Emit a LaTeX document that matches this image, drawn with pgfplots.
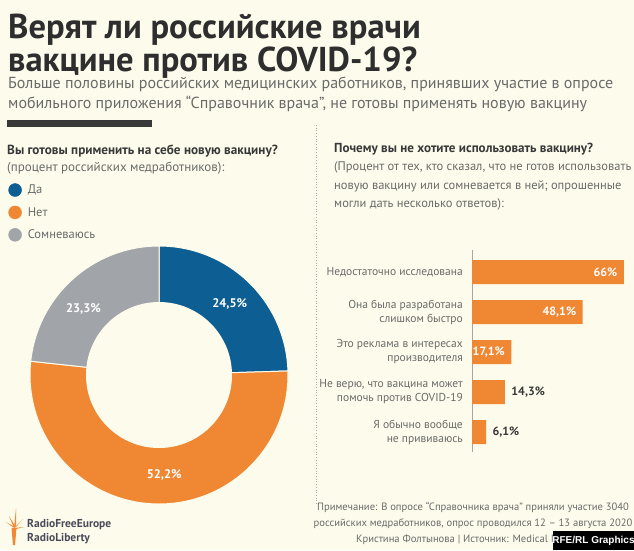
\documentclass[border=0pt]{standalone}
\usepackage{pgfplots}
\pgfplotsset{compat=1.18}
\usepackage{fontspec}
\setmainfont{PT Sans}
\newfontfamily\arialfont{Liberation Sans}
\definecolor{bgC}{HTML}{FDFCEC}
\definecolor{blueC}{HTML}{0C5E93}
\definecolor{orangeC}{HTML}{EF8733}
\definecolor{grayC}{HTML}{A1A5A9}
\definecolor{titleC}{HTML}{2E2E2E}
\definecolor{textC}{HTML}{6A6A6A}
\definecolor{darkC}{HTML}{383838}
\definecolor{logoC}{HTML}{4A4A58}
% donut data (percent)
\def\vYes{24.5}
\def\vNo{52.2}
\def\vDoubt{23.3}
\pgfmathsetmacro{\aA}{90}
\pgfmathsetmacro{\aB}{\aA-\vYes*3.6}
\pgfmathsetmacro{\aC}{\aB-\vNo*3.6}
\pgfmathsetmacro{\aD}{\aC-\vDoubt*3.6}
\begin{document}
\begin{tikzpicture}[x=1pt,y=1pt]
\fill[bgC] (0,0) rectangle (634,-550);
% title
\node[anchor=base west, inner sep=0, text=titleC, font=\fontsize{34.5}{38}\selectfont\bfseries] at (8,-38) {Верят ли российские врачи};
\node[anchor=base west, inner sep=0, text=titleC, font=\fontsize{34.5}{38}\selectfont\bfseries] at (8,-71) {вакцине против COVID-19?};
\node[anchor=base west, inner sep=0, text=textC, font=\fontsize{16}{18}\selectfont] at (8,-88) {Больше половины российских медицинских работников, принявших участие в опросе};
\node[anchor=base west, inner sep=0, text=textC, font=\fontsize{16}{18}\selectfont] at (8,-108) {мобильного приложения “Справочник врача”, не готовы применять новую вакцину};
\fill[darkC] (7,-120) rectangle (152,-127);
% left headings
\node[anchor=base west, inner sep=0, text=darkC, font=\fontsize{13.2}{15}\selectfont\bfseries] at (7,-154) {Вы готовы применить на себе новую вакцину?};
\node[anchor=base west, inner sep=0, text=textC, font=\fontsize{13}{15}\selectfont] at (7,-171) {(процент российских медработников):};
% right headings
\node[anchor=base west, inner sep=0, text=darkC, font=\fontsize{13.1}{15}\selectfont\bfseries] at (334,-152) {Почему вы не хотите использовать вакцину?};
\node[anchor=base west, inner sep=0, text=textC, font=\fontsize{12.5}{15}\selectfont] at (334,-170) {(Процент от тех, кто сказал, что не готов использовать};
\node[anchor=base west, inner sep=0, text=textC, font=\fontsize{12.5}{15}\selectfont] at (334,-189) {новую вакцину или сомневается в ней; опрошенные};
\node[anchor=base west, inner sep=0, text=textC, font=\fontsize{12.5}{15}\selectfont] at (334,-207) {могли дать несколько ответов):};
% separator
\draw[gray!70, dotted, line width=0.7pt] (316,-125) -- (316,-505);

% donut
\begin{axis}[at={(159,-375)}, anchor=origin, x=1pt, y=1pt,
  xmin=-130, xmax=130, ymin=-130, ymax=130, hide axis, clip=false,
  legend style={at={(axis description cs:-0.08,1.238)}, anchor=north west, draw=none, fill=none,
    font=\fontsize{12.5}{14}\selectfont, text=textC, row sep=9pt, inner sep=0pt,
    nodes={inner sep=1pt},
    /tikz/every odd column/.append style={column sep=5pt}},
  legend cell align=left]
\addlegendimage{legend image code/.code={\fill[blueC] (6.5pt,0pt) circle[radius=6.5pt];}}
\addlegendentry{Да}
\addlegendimage{legend image code/.code={\fill[orangeC] (6.5pt,0pt) circle[radius=6.5pt];}}
\addlegendentry{Нет}
\addlegendimage{legend image code/.code={\fill[grayC] (6.5pt,0pt) circle[radius=6.5pt];}}
\addlegendentry{Сомневаюсь}
\fill[blueC, draw=bgC, line width=1pt] (axis cs:0,0) -- ++(\aA:129pt) arc[start angle=\aA, end angle=\aB, radius=129pt] -- cycle;
\fill[orangeC, draw=bgC, line width=1pt] (axis cs:0,0) -- ++(\aB:129pt) arc[start angle=\aB, end angle=\aC, radius=129pt] -- cycle;
\fill[grayC, draw=bgC, line width=1pt] (axis cs:0,0) -- ++(\aC:129pt) arc[start angle=\aC, end angle=\aD, radius=129pt] -- cycle;
\fill[bgC] (axis cs:0,0) circle[radius=73pt];
\path (axis cs:0,0) ++(45:100pt) node[text=white, font=\fontsize{12.5}{14}\selectfont\bfseries] {24,5\%};
\path (axis cs:0,0) ++(-87:100pt) node[text=white, font=\fontsize{12.5}{14}\selectfont\bfseries] {52,2\%};
\path (axis cs:0,0) ++(139:100pt) node[text=white, font=\fontsize{12.5}{14}\selectfont\bfseries] {23,3\%};
\end{axis}

% bar chart
\begin{scope}[shift={(472,-452)}]
\begin{axis}[at={(0,0)}, anchor=south west, scale only axis, width=161pt, height=202pt,
  xbar, bar width=24pt, bar shift=0pt,
  xmin=0, xmax=70, ymin=-0.5, ymax=4.55,
  axis x line=none, axis y line*=left,
  y axis line style={gray!70, line width=0.8pt},
  ytick={0,1,2,3,4},
  yticklabels={{Я обычно вообще\\не прививаюсь},{Не верю, что вакцина может\\помочь против COVID-19},{Это реклама в интересах\\производителя},{Она была разработана\\слишком быстро},{Недостаточно исследована}},
  major tick length=0pt,
  yticklabel style={align=right, font=\fontsize{11.5}{14}\selectfont, text=textC, inner sep=0pt, xshift=-9pt},
  clip=false,
  /pgf/number format/use comma, /pgf/number format/assume math mode=true,
  nodes near coords={\pgfmathprintnumber{\pgfplotspointmeta}\%},
  nodes near coords style={font=\fontsize{12}{14}\selectfont\bfseries}]
\addplot[fill=orangeC, draw=none, nodes near coords style={anchor=east, xshift=-3pt, text=white}] coordinates {(66,4) (48.1,3) (17.1,2)};
\addplot[fill=orangeC, draw=none, nodes near coords style={anchor=west, xshift=3pt, text=darkC}] coordinates {(14.3,1) (6.1,0)};
\end{axis}
\end{scope}

% footer
\node[anchor=base, inner sep=0, text=textC, font=\fontsize{10.6}{13}\selectfont] at (473,-510) {Примечание: В опросе “Справочника врача” приняли участие 3040};
\node[anchor=base, inner sep=0, text=textC, font=\fontsize{10.6}{13}\selectfont] at (473,-526) {российских медработников, опрос проводился 12 – 13 августа 2020};
\node[anchor=base, inner sep=0, text=textC, font=\fontsize{10.6}{13}\selectfont] at (473,-542) {Кристина Фолтынова | Источник: Medical Informer};
\fill[black] (553,-531) rectangle (634,-550);
\node[text=white, font=\arialfont\fontsize{10}{12}\selectfont\bfseries] at (593.5,-540.5) {RFE/RL Graphics};
% logo
\fill[orangeC] (13,-545) -- (11.5,-528) -- (16.5,-528) -- (15,-545) -- cycle;
\fill[orangeC] (14,-528) -- (6,-522) -- (13,-526) -- cycle;
\fill[orangeC] (14,-528) -- (9,-516) -- (14.5,-525) -- cycle;
\fill[orangeC] (14,-528) -- (16,-508) -- (16,-526) -- cycle;
\fill[orangeC] (14,-528) -- (23,-519) -- (16,-527) -- cycle;
\fill[orangeC] (14,-528) -- (24,-527) -- (16,-529) -- cycle;
\node[anchor=base west, inner sep=0, text=logoC, font=\fontsize{11.5}{13}\selectfont\bfseries] at (27,-527) {RadioFreeEurope};
\node[anchor=base west, inner sep=0, text=logoC, font=\fontsize{11.5}{13}\selectfont\bfseries] at (27,-541) {RadioLiberty};
\pgfresetboundingbox
\useasboundingbox (0,0) rectangle (634,-550);
\end{tikzpicture}
\end{document}
